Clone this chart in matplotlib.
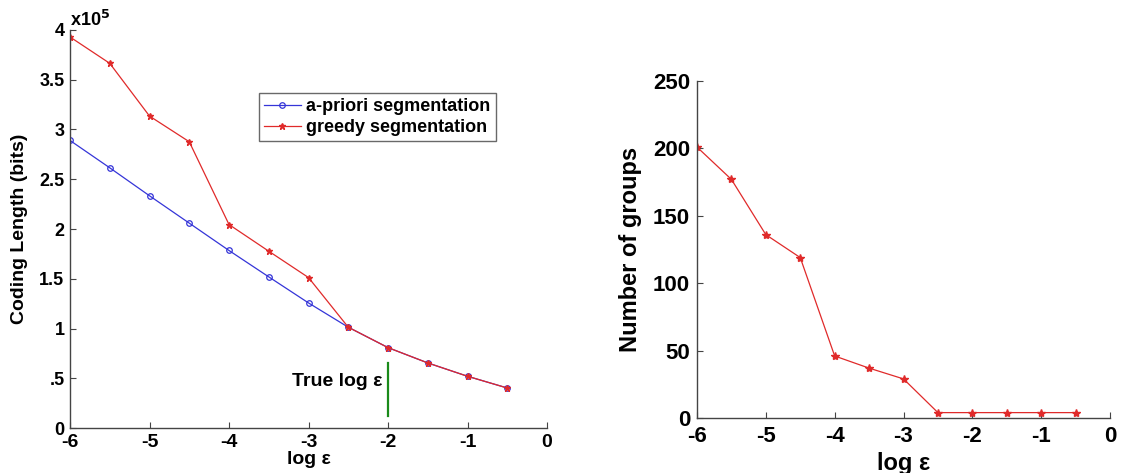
import matplotlib
matplotlib.use("Agg")
import matplotlib.pyplot as plt

plt.rcParams['font.family'] = ['Liberation Sans', 'DejaVu Sans']
plt.rcParams['font.weight'] = 'bold'
plt.rcParams['axes.unicode_minus'] = False

log_eps = [-6, -5.5, -5, -4.5, -4, -3.5, -3, -2.5, -2, -1.5, -1, -0.5]
apriori = [2.89, 2.615, 2.334, 2.059, 1.784, 1.519, 1.257, 1.013, 0.808, 0.654, 0.52, 0.402]
greedy = [3.93, 3.665, 3.135, 2.877, 2.045, 1.777, 1.512, 1.013, 0.808, 0.654, 0.52, 0.402]
groups = [201, 177, 136, 119, 46, 37, 29, 4, 4, 4, 4, 4]

x_ticks = [-6, -5, -4, -3, -2, -1, 0]
y1_ticks = [0, 0.5, 1, 1.5, 2, 2.5, 3, 3.5, 4]
y1_labels = ['0', '.5', '1', '1.5', '2', '2.5', '3', '3.5', '4']
y2_ticks = [0, 50, 100, 150, 200, 250]

W, H = 1143, 473
fig = plt.figure(figsize=(W / 100, H / 100), dpi=100)

def box(l, r, t, b):
    return [l / W, 1 - b / H, (r - l) / W, (b - t) / H]

def style(ax):
    for s in ['top', 'right']:
        ax.spines[s].set_visible(False)
    for s in ['left', 'bottom']:
        ax.spines[s].set_color('#444444')
        ax.spines[s].set_linewidth(1.0)
    ax.tick_params(direction='in', length=4, color='#444444')

RED = '#e02a2a'
BLUE = '#3535d8'

ax1 = fig.add_axes(box(70, 547, 30, 428))
style(ax1)
ax1.plot(log_eps, apriori, color=BLUE, lw=0.9, marker='o', ms=4,
         mfc='none', mec=BLUE, mew=0.9, label='a-priori segmentation')
ax1.plot(log_eps, greedy, color=RED, lw=0.9, marker='*', ms=5,
         mfc=RED, mec=RED, label='greedy segmentation')
ax1.plot([-2, -2], [0.117, 0.654], color='#1a8a1a', lw=1.6)
ax1.text(-2.07, 0.47, 'True log ε', ha='right', va='center', fontsize=14, fontweight='bold')
ax1.set_xlim(-6, 0)
ax1.set_ylim(0, 4)
ax1.set_xticks(x_ticks)
ax1.set_yticks(y1_ticks)
ax1.set_yticklabels(y1_labels)
ax1.tick_params(axis='y', labelsize=13, pad=4)
ax1.tick_params(axis='x', labelsize=14, pad=4)
for lb in ax1.get_xticklabels() + ax1.get_yticklabels():
    lb.set_fontweight('bold')
ax1.set_xlabel('log ε', fontsize=14, fontweight='bold', labelpad=0)
ax1.set_ylabel('Coding Length (bits)', fontsize=14, fontweight='bold', labelpad=8)
ax1.text(0.0, 1.0, 'x10$^{\\mathbf{5}}$', transform=ax1.transAxes, ha='left', va='bottom',
         fontsize=13, fontweight='bold')
leg = ax1.legend(loc='upper left', bbox_to_anchor=((259 - 70) / 477, 1 - (93 - 30) / 398),
                 prop={'size': 13, 'weight': 'bold'}, frameon=True, fancybox=False,
                 edgecolor='#444444', borderpad=0.3, labelspacing=0.2, handlelength=2.0,
                 handletextpad=0.3, borderaxespad=0)
leg.get_frame().set_linewidth(1.0)

ax2 = fig.add_axes(box(697, 1110, 81, 418))
style(ax2)
ax2.plot(log_eps, groups, color=RED, lw=0.9, marker='*', ms=6,
         mfc=RED, mec=RED)
ax2.set_xlim(-6, 0)
ax2.set_ylim(0, 250)
ax2.set_xticks(x_ticks)
ax2.set_yticks(y2_ticks)
ax2.tick_params(axis='y', labelsize=16, pad=5)
ax2.tick_params(axis='x', labelsize=16, pad=6)
for lb in ax2.get_xticklabels() + ax2.get_yticklabels():
    lb.set_fontweight('bold')
ax2.set_xlabel('log ε', fontsize=17, fontweight='bold', labelpad=3)
ax2.set_ylabel('Number of groups', fontsize=17, fontweight='bold', labelpad=8)

fig.savefig('out.png', dpi=100)
